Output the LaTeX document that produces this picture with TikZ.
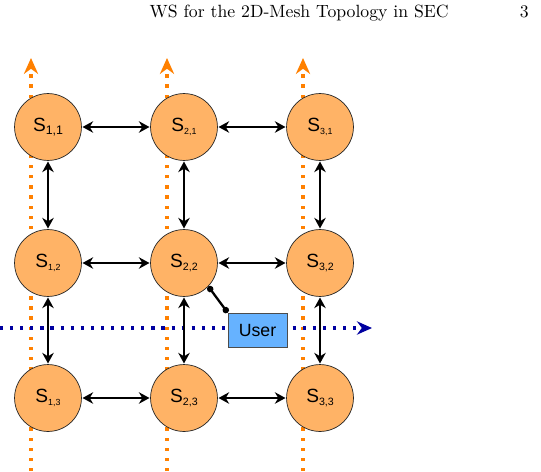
\documentclass[tikz,border=0pt]{standalone}
\usepackage{fontspec}
\newfontfamily\helv{Liberation Sans}
\usetikzlibrary{arrows.meta}
\definecolor{nodeorange}{HTML}{FFB366}
\definecolor{lineorange}{HTML}{FF8000}
\definecolor{userblue}{HTML}{66B2FF}
\definecolor{pathblue}{HTML}{0000A0}
\newcommand{\srvlabel}[2]{S\raisebox{-0.35ex}{\fontsize{#1}{#1}\selectfont #2}}
\tikzset{
  srv/.style={circle,draw=black!85,fill=nodeorange,minimum size=37.8pt,inner sep=0pt,
    font=\helv\fontsize{10.8}{10.8}\selectfont},
  userbox/.style={rectangle,draw=black!70,fill=userblue,minimum width=33.3pt,
    minimum height=19.2pt,inner sep=0pt,font=\helv\fontsize{10}{10}\selectfont},
  link/.style={{Stealth[length=6pt,width=6.5pt]}-{Stealth[length=6pt,width=6.5pt]},
    line width=1.3pt,shorten <=0.4pt,shorten >=0.4pt},
  orangepath/.style={lineorange,line width=1.8pt,dash pattern=on 1.8pt off 3.9pt,
    -{Stealth[length=9pt,width=8pt]}},
  bluepath/.style={pathblue,line width=1.8pt,dash pattern=on 1.8pt off 3.9pt,
    -{Stealth[length=8.5pt,width=7.5pt]}},
  userlink/.style={{Circle[length=3.6pt]}-{Circle[length=3.6pt]},line width=1.3pt}
}
\begin{document}
\begin{tikzpicture}[x=0.565pt,y=-0.565pt]
\useasboundingbox (0,0) rectangle (541,471);
\node[anchor=base east] (title) at (455,18) {WS for the 2D-Mesh Topology in SEC};
\node[anchor=base east] (page) at (535,18) {3};
\foreach \i/\x in {1/31,2/167,3/303} {
  \coordinate (ob\i) at (\x,471);
  \coordinate (ot\i) at (\x,58);
  \draw[orangepath] (ob\i) -- (ot\i);
}
\coordinate (bl) at (0,328);
\coordinate (br) at (372,328);
\draw[bluepath] (bl) -- (br);
\node[srv] (s11) at (48,127) {\srvlabel{7}{1,1}};
\node[srv] (s21) at (184,127) {\srvlabel{5}{2,1}};
\node[srv] (s31) at (320,127) {\srvlabel{5}{3,1}};
\node[srv] (s12) at (48,263) {\srvlabel{5}{1,2}};
\node[srv] (s22) at (184,263) {\srvlabel{6}{2,2}};
\node[srv] (s32) at (320,263) {\srvlabel{6}{3,2}};
\node[srv] (s13) at (48,398) {\srvlabel{5}{1,3}};
\node[srv] (s23) at (184,398) {\srvlabel{6}{2,3}};
\node[srv] (s33) at (320,398) {\srvlabel{6}{3,3}};
\node[userbox] (user) at (257.5,330) {User};
\foreach \r in {1,2,3} {
  \draw[link] (s1\r) -- (s2\r);
  \draw[link] (s2\r) -- (s3\r);
}
\foreach \c in {1,2,3} {
  \draw[link] (s\c1) -- (s\c2);
  \draw[link] (s\c2) -- (s\c3);
}
\draw[userlink] (s22.-44) -- (user.north west);
\end{tikzpicture}
\end{document}
